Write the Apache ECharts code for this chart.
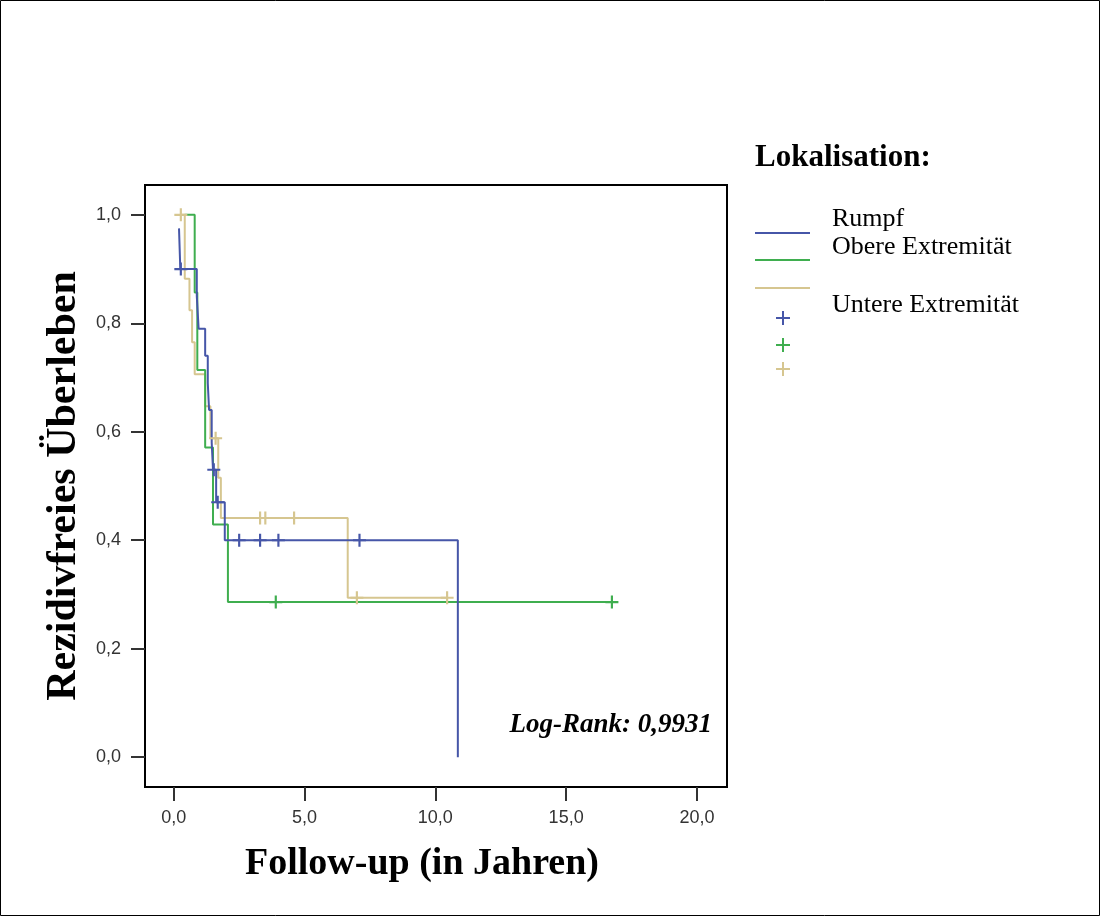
<!DOCTYPE html>
<html>
<head>
<meta charset="utf-8">
<title>Rezidivfreies Überleben nach Lokalisation</title>
<script src="https://cdn.jsdelivr.net/npm/echarts@6.0.0/dist/echarts.min.js"></script>
<style>
  html, body { margin: 0; padding: 0; background: #fff; }
  #chart { width: 1100px; height: 916px; }
</style>
</head>
<body>
<div id="chart"></div>
<script>
// tick positions
const xTicks = [0, 5, 10, 15, 20];
const yTicks = [0, 0.2, 0.4, 0.6, 0.8, 1.0];

const seriesNames = ['Rumpf', 'Obere Extremität', 'Untere Extremität'];
const seriesColors = ['#4656a8', '#3fae4f', '#d6c690'];

// Kaplan-Meier steps: [time, survival after that time]
const rumpfSteps = [[0.2, 0.975], [0.25, 0.90], [0.88, 0.85], [0.95, 0.79], [1.2, 0.74], [1.3, 0.69],
    [1.35, 0.64], [1.45, 0.58], [1.5, 0.53], [1.62, 0.47], [1.95, 0.40], [10.86, 0.0]];
const obereSteps = [[0.42, 1.0], [0.8, 0.857], [0.9, 0.714], [1.2, 0.571], [1.5, 0.429], [2.07, 0.286], [16.75, 0.286]];
const untereSteps = [[0.27, 1.0], [0.42, 0.882], [0.6, 0.824], [0.7, 0.765], [0.8, 0.706], [1.2, 0.647],
    [1.4, 0.588], [1.7, 0.515], [1.8, 0.441], [6.65, 0.294], [10.45, 0.294]];

// censored cases
const rumpfCensored = [[0.27, 0.90], [1.53, 0.53], [1.68, 0.47], [2.5, 0.40], [3.3, 0.40], [4.0, 0.40], [7.1, 0.40]];
const obereCensored = [[3.9, 0.286], [16.75, 0.286]];
const untereCensored = [[0.27, 1.0], [1.6, 0.588], [3.3, 0.441], [3.5, 0.441], [4.6, 0.441], [7.0, 0.294], [10.45, 0.294]];

const logRankText = 'Log-Rank: 0,9931';

const serif = '"Liberation Serif", "Times New Roman", serif';
const sans = '"Liberation Sans", Arial, sans-serif';
const plusSymbol = 'path://M5,0H7V5H12V7H7V12H5V7H0V5H5Z';

const chart = echarts.init(document.getElementById('chart'));

const stepSets = [rumpfSteps, obereSteps, untereSteps];
const censorSets = [rumpfCensored, obereCensored, untereCensored];

const lineSeries = [2, 1, 0].map(i => ({
    name: seriesNames[i],
    type: 'line',
    step: 'end',
    data: stepSets[i],
    showSymbol: false,
    lineStyle: { color: seriesColors[i], width: 2 },
    itemStyle: { color: seriesColors[i] },
    z: 2
}));

const censorSeries = [2, 1, 0].map(i => ({
    name: seriesNames[i] + ' (zensiert)',
    type: 'scatter',
    data: censorSets[i],
    symbol: plusSymbol,
    symbolSize: 13,
    itemStyle: { color: seriesColors[i], opacity: 1 },
    z: 3
}));

// legend drawn like the SPSS one: three lines, three labels, three crosses
const legendGraphics = [
    {
        type: 'text', x: 755, y: 158,
        style: { text: 'Lokalisation:', font: 'bold 31px ' + serif, fill: '#000', verticalAlign: 'middle' }
    }
];
const legendLineY = [233, 260, 288];
const legendLabelY = [219, 247, 305];
const legendPlusY = [318, 345, 369];
seriesNames.forEach((name, i) => {
    legendGraphics.push({
        type: 'line',
        shape: { x1: 755, y1: legendLineY[i], x2: 810, y2: legendLineY[i] },
        style: { stroke: seriesColors[i], lineWidth: 2 }
    });
    legendGraphics.push({
        type: 'text', x: 832, y: legendLabelY[i],
        style: { text: name, font: '26px ' + serif, fill: '#000', verticalAlign: 'middle' }
    });
    legendGraphics.push({
        type: 'line',
        shape: { x1: 776, y1: legendPlusY[i], x2: 790, y2: legendPlusY[i] },
        style: { stroke: seriesColors[i], lineWidth: 2 }
    });
    legendGraphics.push({
        type: 'line',
        shape: { x1: 783, y1: legendPlusY[i] - 7, x2: 783, y2: legendPlusY[i] + 7 },
        style: { stroke: seriesColors[i], lineWidth: 2 }
    });
});

const tickFormat = v => v.toFixed(1).replace('.', ',');

const option = {
    backgroundColor: '#fff',
    animation: false,
    grid: {
        left: 145,
        top: 185,
        width: 582,
        height: 602,
        show: true,
        borderColor: '#000',
        borderWidth: 2,
        backgroundColor: '#fff'
    },
    xAxis: {
        type: 'value',
        min: -1.1,
        max: 21.15,
        name: 'Follow-up (in Jahren)',
        nameLocation: 'middle',
        nameGap: 58,
        nameTextStyle: { fontFamily: serif, fontWeight: 'bold', fontSize: 38, color: '#000', padding: [0, 28, 0, 0] },
        axisLine: { show: true, onZero: false, lineStyle: { color: '#000', width: 2 } },
        axisTick: { show: true, length: 14, customValues: xTicks, lineStyle: { color: '#333', width: 2 } },
        axisLabel: {
            customValues: xTicks,
            margin: 22,
            fontFamily: sans,
            fontSize: 18,
            color: '#333',
            formatter: tickFormat
        },
        splitLine: { show: false }
    },
    yAxis: {
        type: 'value',
        min: -0.055,
        max: 1.055,
        name: 'Rezidivfreies Überleben',
        nameLocation: 'middle',
        nameGap: 52,
        nameTextStyle: { fontFamily: serif, fontWeight: 'bold', fontSize: 42, color: '#000' },
        axisLine: { show: true, onZero: false, lineStyle: { color: '#000', width: 2 } },
        axisTick: { show: true, length: 14, customValues: yTicks, lineStyle: { color: '#333', width: 2 } },
        axisLabel: {
            customValues: yTicks,
            margin: 24,
            fontFamily: sans,
            fontSize: 18,
            color: '#333',
            formatter: tickFormat
        },
        splitLine: { show: false }
    },
    graphic: [
        {
            type: 'rect',
            shape: { x: 0.5, y: 0.5, width: 1099, height: 915 },
            style: { fill: 'none', stroke: '#000', lineWidth: 1 },
            silent: true
        },
        {
            type: 'text', x: 712, y: 725,
            style: { text: logRankText, font: 'italic bold 27px ' + serif, fill: '#000', align: 'right', verticalAlign: 'middle' }
        }
    ].concat(legendGraphics),
    series: lineSeries.concat(censorSeries)
};

chart.setOption(option);
</script>
</body>
</html>
